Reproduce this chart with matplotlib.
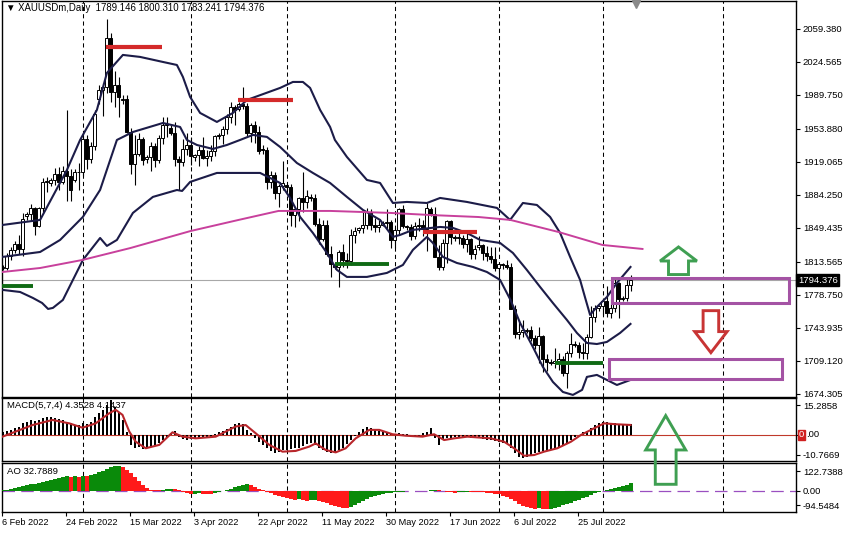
import numpy as np
import matplotlib.pyplot as plt
import matplotlib.transforms as mtransforms
from matplotlib.patches import Polygon, Rectangle

plt.rcParams['font.family'] = ['Liberation Sans', 'DejaVu Sans']

# ---- texts ----
header = "\u25bc XAUUSDm,Daily  1789.146 1800.310 1783.241 1794.376"
macd_text = "MACD(5,7,4) 4.3528 4.1437"
ao_text = "AO 32.7889"
last_price = 1794.376

date_labels = ['6 Feb 2022', '24 Feb 2022', '15 Mar 2022', '3 Apr 2022', '22 Apr 2022',
               '11 May 2022', '30 May 2022', '17 Jun 2022', '6 Jul 2022', '25 Jul 2022']
date_bars = [0, 16, 32, 48, 64, 80, 96, 112, 128, 144]
month_bars = [20, 47, 71, 98, 124, 150, 180]
price_ticks = [2059.380, 2024.565, 1989.750, 1953.880, 1919.065, 1884.250,
               1849.435, 1813.565, 1778.750, 1743.935, 1709.120, 1674.305]

# ---- daily candles (6 Feb .. 9 Aug 2022) ----
open_ = [1808,1807,1820,1826,1833,1827,1862,1864,1870,1852,
         1870,1898,1897,1900,1906,1898,1910,1904,1900,1908,
         1909,1943,1922,1936,1985,1995,1998,2050,1993,2000,
         1984,1986,1951,1917,1927,1943,1922,1924,1936,1921,
         1944,1958,1955,1950,1922,1919,1933,1937,1924,1926,
         1932,1923,1925,1931,1946,1948,1954,1966,1977,1975,
         1980,1978,1950,1958,1951,1933,1932,1898,1905,1886,
         1894,1895,1893,1863,1869,1881,1877,1882,1881,1854,
         1838,1853,1822,1810,1808,1824,1816,1815,1842,1847,
         1849,1853,1866,1853,1850,1853,1855,1856,1837,1847,
         1869,1851,1850,1841,1852,1853,1848,1869,1864,1819,
         1808,1834,1857,1840,1839,1839,1832,1838,1822,1829,
         1831,1823,1820,1817,1807,1811,1810,1808,1764,1738,
         1740,1741,1742,1733,1726,1735,1711,1708,1707,1709,
         1711,1696,1718,1727,1726,1719,1717,1734,1756,1765,
         1767,1772,1760,1765,1791,1775,1776,1789.146]
high = [1810,1823,1829,1836,1842,1865,1866,1875,1872,1872,
        1902,1903,1902,1913,1914,1915,1974,1912,1912,1918,
        1950,1948,1940,1974,2000,2002,2070,2055,2015,2009,
        1990,1990,1955,1948,1950,1945,1926,1940,1939,1948,
        1966,1966,1958,1961,1925,1943,1950,1945,1928,1936,
        1945,1932,1937,1948,1950,1957,1970,1982,1979,1982,
        1998,1981,1960,1962,1957,1937,1935,1910,1908,1896,
        1920,1897,1896,1871,1882,1909,1890,1885,1885,1860,
        1858,1858,1830,1813,1826,1833,1823,1848,1850,1850,
        1866,1870,1869,1860,1858,1857,1869,1858,1849,1871,
        1874,1853,1854,1856,1860,1858,1876,1872,1872,1831,
        1838,1858,1858,1842,1845,1842,1847,1839,1831,1841,
        1833,1830,1829,1829,1813,1813,1816,1812,1768,1752,
        1752,1744,1746,1736,1745,1737,1716,1711,1723,1718,
        1714,1720,1739,1730,1729,1728,1738,1767,1768,1768,
        1775,1788,1775,1796,1792,1778,1796,1800.310]
low = [1805,1805,1816,1823,1822,1820,1858,1857,1842,1850,
       1866,1887,1894,1895,1889,1896,1878,1878,1898,1889,
       1904,1912,1918,1932,1980,1968,1992,1982,1977,1966,
       1980,1950,1906,1895,1925,1916,1918,1910,1914,1918,
       1938,1945,1948,1915,1890,1915,1926,1916,1920,1915,
       1922,1915,1920,1925,1943,1938,1949,1960,1958,1973,
       1975,1945,1940,1939,1927,1928,1891,1892,1880,1872,
       1889,1890,1851,1850,1857,1866,1870,1878,1852,1832,
       1836,1820,1798,1806,1787,1808,1807,1810,1834,1844,
       1844,1848,1847,1845,1845,1851,1848,1828,1828,1843,
       1849,1847,1837,1838,1846,1841,1825,1862,1819,1805,
       1805,1813,1832,1836,1832,1828,1824,1817,1817,1826,
       1816,1815,1813,1804,1784,1806,1806,1764,1733,1732,
       1734,1739,1730,1722,1707,1697,1699,1705,1702,1700,
       1693,1681,1713,1724,1712,1711,1711,1733,1750,1762,
       1758,1755,1754,1761,1754,1772,1772,1783.241]
close = [1807,1820,1826,1833,1827,1859,1864,1870,1852,1870,
         1898,1898,1900,1906,1898,1910,1904,1889,1908,1909,
         1943,1922,1936,1970,1995,1998,2050,1993,2000,1988,
         1986,1951,1917,1927,1943,1921,1924,1936,1921,1944,
         1958,1958,1950,1922,1919,1933,1937,1925,1926,1932,
         1923,1925,1931,1946,1948,1954,1966,1977,1974,1980,
         1978,1950,1958,1951,1931,1932,1898,1905,1886,1894,
         1897,1893,1863,1869,1881,1877,1883,1881,1854,1838,
         1853,1822,1811,1808,1824,1816,1815,1842,1846,1849,
         1853,1866,1853,1850,1853,1855,1856,1837,1847,1869,
         1851,1850,1841,1852,1853,1848,1871,1864,1819,1808,
         1834,1857,1840,1839,1839,1832,1838,1822,1827,1831,
         1823,1820,1817,1807,1811,1810,1808,1764,1738,1740,
         1742,1742,1733,1726,1735,1711,1708,1707,1709,1711,
         1696,1718,1727,1726,1719,1717,1734,1756,1765,1767,
         1772,1760,1765,1791,1775,1776,1789,1794.376]

# ---- Bollinger bands and moving average (bar, price) ----
bb_up_x = [0, 9.4, 16.1, 19.4, 23.6, 26.1, 30.1, 34.4, 40.1, 43.6, 45.1, 46.9, 49.4, 53.6,
           57.6, 61.1, 69.4, 72.6, 75.1, 76.9, 79.4, 81.9, 83.1, 86.1, 91.1, 94.4, 97.6,
           101.1, 106.1, 109.4, 116.1, 123.6, 126.9, 130.1, 133.6, 136.9, 139.4, 141.9,
           144.4, 145.6, 146.9, 148.6, 151.1, 153.6, 157]
bb_up = [1852.6, 1857.9, 1910.6, 1942.3, 1974.0, 2013.0, 2032.0, 2029.9, 2024.6, 2021.4,
         2008.8, 1987.7, 1970.8, 1961.3, 1970.8, 1984.5, 1997.2, 2003.5, 2003.5, 1997.2,
         1974.0, 1956.0, 1942.3, 1924.4, 1900.1, 1896.9, 1875.8, 1876.9, 1875.8, 1881.1,
         1876.9, 1870.6, 1857.9, 1875.8, 1873.7, 1861.1, 1844.2, 1818.9, 1794.6, 1776.7,
         1757.7, 1766.1, 1776.6, 1791.4, 1808.3]
bb_mid_x = [0, 9.4, 14.4, 20.1, 24.4, 28.6, 32.6, 40.1, 44.4, 46.1, 48.6, 52.6, 56.1, 59.4,
            62.6, 66.1, 69.4, 73.6, 77.6, 81.9, 86.1, 90.1, 94.4, 97.6, 99.4, 102.6, 109.4,
            112.6, 116.1, 119.4, 124.4, 127.6, 131.1, 134.4, 137.6, 141.1, 143.6, 146.1,
            148.6, 151.1, 154.4, 157]
bb_mid = [1818.9, 1824.1, 1836.8, 1861.1, 1889.6, 1942.3, 1950.7, 1960.2, 1956.0, 1942.3,
          1937.0, 1932.8, 1937.0, 1942.3, 1947.6, 1945.5, 1934.9, 1918.0, 1907.5, 1896.9,
          1882.2, 1868.5, 1857.9, 1840.0, 1842.1, 1847.4, 1850.5, 1849.5, 1844.2, 1836.8,
          1833.6, 1823.1, 1805.1, 1787.2, 1770.3, 1752.4, 1738.7, 1728.1, 1727.0, 1729.2,
          1738.7, 1748.2]
bb_low_x = [0, 4.4, 7.6, 9.9, 11.4, 12.6, 15.1, 17.6, 20.1, 24.4, 26.1, 28.6, 32.6, 37.6,
            43.6, 44.9, 46.9, 53.6, 64.4, 69.4, 71.9, 74.4, 77.6, 81.1, 83.6, 86.1, 91.1,
            96.1, 100.1, 102.6, 106.1, 107.6, 110.1, 113.6, 117.6, 121.1, 124.4, 127.0,
            129.4, 132.6, 135.1, 137.6, 140.1, 142.6, 144.9, 146.1, 148.6, 151.1, 153.6, 157]
bb_low = [1784.1, 1781.9, 1775.6, 1770.3, 1764.0, 1765.1, 1773.5, 1794.6, 1815.7, 1838.9,
          1830.5, 1836.8, 1865.3, 1882.2, 1889.5, 1888.5, 1898.0, 1907.5, 1907.5, 1896.9,
          1881.1, 1861.1, 1844.2, 1823.1, 1805.2, 1797.8, 1797.8, 1802.0, 1810.4, 1826.3,
          1840.0, 1833.6, 1818.9, 1812.5, 1808.3, 1803.0, 1794.6, 1773.5, 1749.2, 1723.9,
          1702.8, 1687.0, 1676.4, 1673.3, 1678.6, 1692.3, 1694.4, 1689.1, 1683.8, 1689.1]
ma_x = [0, 9.4, 20, 32, 47, 59, 69, 82, 97, 107, 119, 127, 139, 150, 160]
ma = [1803.0, 1807.2, 1815.7, 1828.3, 1846.2, 1857.9, 1867.4, 1867.4, 1865.3, 1863.1,
      1861.0, 1857.9, 1845.2, 1831.5, 1827.3]

# ---- drawn objects ----
red_levels = [(25.9, 39.9, 2040.7), (58.9, 72.6, 1984.5), (105.1, 118.6, 1845.6)]
green_levels = [(-0.2, 7.6, 1788.6), (83.1, 96.6, 1811.5), (138.1, 150.1, 1707.3)]
zones = [(152.4, 196.6, 1770.6, 1796.7), (151.6, 194.9, 1690.5, 1710.9)]

# ---- MACD(5,7,4) ----
macd_hist = [1.1, 1.7, 2.2, 2.8, 3.3, 4.8, 5.5, 6.2, 5.8, 6.2,
             7.2, 7.6, 7.6, 7.2, 6.6, 6.2, 5.5, 4.8, 4.1, 4.1,
             4.8, 4.4, 5.5, 7.6, 9.0, 10.4, 12.4, 14.5, 11.7, 9.7,
             6.2, 1.4, -4.1, -5.5, -4.8, -5.8, -5.2, -4.8, -4.1, -3.5,
             -2.1, -0.7, 0.7, 1.7, -0.7, -1.7, -2.1, -1.7, -1.4, -1.1,
             -1.4, -1.0, -0.7, 0.4, 1.1, 1.7, 2.5, 3.5, 4.4, 4.8,
             4.4, 2.1, 0.7, -1.1, -2.8, -4.1, -5.5, -6.6, -7.6, -6.9,
             -6.2, -6.2, -5.8, -5.5, -5.2, -4.4, -3.9, -3.5, -4.1, -5.5,
             -6.2, -6.9, -7.6, -6.9, -6.2, -5.2, -3.9, -2.1, -0.3, 1.4,
             2.5, 3.5, 3.0, 2.5, 1.7, 1.1, 0.7, 0.4, 0.3, 0.7,
             0.4, 0.3, -0.3, -0.4, -0.3, 0.7, 1.4, 2.8, -1.4, -4.1,
             -2.1, -1.4, -1.1, -0.7, -0.7, -0.7, -0.7, -1.1, -1.1, -1.4,
             -1.7, -2.1, -2.1, -2.5, -2.8, -3.5, -3.9, -5.5, -7.6, -9.0,
             -9.7, -9.0, -8.3, -7.6, -6.9, -6.6, -6.2, -5.8, -5.2, -4.8,
             -4.4, -3.5, -2.1, -0.7, 0.0, 1.1, 1.7, 3.0, 4.1, 4.8,
             5.5, 5.2, 5.0, 4.8, 4.7, 4.6, 4.4, 4.35]
sig_x = [0, 7.5, 12.5, 16.7, 20, 23.3, 26.7, 28.3, 30, 31.7, 33.3, 35.8, 39.2, 42.5, 45,
         48.3, 53.3, 58.3, 60.8, 63.3, 66.7, 70, 73.3, 76.7, 78.3, 80.8, 83.3, 85.8, 88.3,
         91.7, 94.2, 97.5, 100.8, 105, 107.9, 110.4, 112.9, 116.2, 122.1, 125.4, 127.9,
         130.4, 132.9, 135.4, 138.7, 142.1, 144.6, 147.1, 150.4, 153.7, 157]
sig = [-0.7, 4.1, 6.2, 4.8, 3.0, 4.8, 9.0, 10.4, 8.3, 1.4, -2.8, -5.5, -4.1, 1.1, -0.7,
       -1.4, -0.7, 3.5, 4.1, 0.7, -4.1, -6.9, -6.6, -4.8, -3.5, -6.2, -7.2, -5.5, -1.4,
       2.1, 2.1, 0.3, -0.3, -0.7, 0.3, -2.1, -1.4, -0.7, -1.4, -2.8, -5.5,
       -8.6, -8.3, -6.9, -5.5, -2.8, 0.0, 2.1, 4.8, 4.4, 4.14]
macd_max, macd_min = 15.2858, -10.7669

# ---- Awesome Oscillator ----
ao = [1.5, 4.4, 8.9, 11.8, 16.3, 19.2, 23.7, 28.1, 31.1, 35.5,
      40.0, 44.4, 48.8, 53.3, 57.7, 60.7, 65.1, 62.2, 65.1, 62.2,
      65.1, 63.6, 68.1, 74.0, 81.4, 88.8, 96.2, 103.6, 108.0, 111.0,
      103.6, 93.2, 77.0, 59.2, 41.4, 25.2, 13.3, 4.4, 3.0, 1.5,
      3.0, 5.9, 8.9, 7.4, 1.5, -4.4, -10.4, -14.8, -13.3, -11.8,
      -13.3, -14.8, -16.3, -11.8, -7.4, -3.0, 3.0, 8.9, 14.8, 20.7,
      26.6, 28.1, 23.7, 16.3, 8.9, 1.5, -4.4, -11.8, -17.8, -23.7,
      -28.1, -32.6, -37.0, -40.0, -38.5, -41.4, -44.4, -42.9, -41.4, -45.9,
      -50.3, -56.2, -62.2, -68.1, -72.5, -75.5, -78.4, -72.5, -63.6, -53.3,
      -44.4, -35.5, -28.1, -22.2, -17.8, -14.8, -11.8, -8.9, -7.4, -5.9,
      -4.4, -3.0, -1.5, -1.5, -1.5, -1.5, 0.0, 3.0, 3.0, 1.5,
      -1.5, -4.4, -7.4, -8.9, -7.4, -5.9, -4.4, -5.9, -5.9, -7.4,
      -7.4, -8.9, -10.4, -13.3, -16.3, -22.2, -29.6, -38.5, -47.4, -57.7,
      -66.6, -72.5, -77.0, -79.9, -77.0, -79.9, -82.9, -81.4, -77.0, -71.0,
      -65.1, -59.2, -53.3, -47.4, -41.4, -34.0, -26.6, -19.2, -11.8, -5.9,
      -1.5, 3.0, 7.4, 11.8, 16.3, 20.7, 26.6, 32.8]
ao_max, ao_min = 122.7388, -94.5484

# ---- layout ----
W, H = 848, 533
fig = plt.figure(figsize=(W / 100, H / 100), dpi=100)


def box(top, bottom, left=2, right=796):
    return [left / W, 1 - bottom / H, (right - left) / W, (bottom - top) / H]


ax = fig.add_axes(box(1, 397))
axm = fig.add_axes(box(398, 461))
axa = fig.add_axes(box(463, 512))
for a in (ax, axm, axa):
    a.set_xlim(-0.125, 198.375)
    for s in a.spines.values():
        s.set_color('black')
        s.set_linewidth(1.0)
    a.yaxis.tick_right()
    a.tick_params(axis='y', length=3, width=0.8, labelsize=6.8, pad=2, colors='black')
    for b in month_bars:
        a.axvline(b, color='black', lw=0.75, ls=(0, (4, 3)), zorder=1)
ax.set_xticks([])
axm.set_xticks([])

# ---- main chart ----
ax.set_ylim(1671.1, 2088.9)
ax.set_yticks(price_ticks)
ax.set_yticklabels([f'{v:.3f}' for v in price_ticks])
ax.axhline(last_price, color='#a8a8a8', lw=0.8, zorder=1)

o, h, l, c = map(np.array, (open_, high, low, close))
xb = np.arange(len(c))
bull = c >= o
body_lo = np.minimum(o, c)
body_h = np.maximum(np.abs(c - o), 0.8)
ax.vlines(xb, l, h, color='black', lw=0.8, zorder=2)
ax.bar(xb[bull], body_h[bull], bottom=body_lo[bull], width=0.72, color='white',
       edgecolor='black', linewidth=0.7, zorder=3)
ax.bar(xb[~bull], body_h[~bull], bottom=body_lo[~bull], width=0.72, color='black',
       edgecolor='black', linewidth=0.7, zorder=3)

band_kw = dict(color='#1c1c48', lw=1.5, zorder=4, solid_joinstyle='round')
ax.plot(bb_up_x, bb_up, **band_kw)
ax.plot(bb_mid_x, bb_mid, **band_kw)
ax.plot(bb_low_x, bb_low, **band_kw)
ax.plot(ma_x, ma, color='#c8409c', lw=1.4, zorder=4)

for x0, x1, y in red_levels:
    ax.plot([x0, x1], [y, y], color='#d42a2a', lw=3.0, solid_capstyle='butt', zorder=5)
for x0, x1, y in green_levels:
    ax.plot([x0, x1], [y, y], color='#0f6a14', lw=2.8, solid_capstyle='butt', zorder=5)
for x0, x1, y0, y1 in zones:
    ax.add_patch(Rectangle((x0, y0), x1 - x0, y1 - y0, fill=False, edgecolor='#a453a4',
                           lw=2.2, zorder=5))


def hollow_arrow(target, xc, y_tip, y_neck, y_tail, head_half, shaft_half, color, transform):
    verts = [(xc, y_tip), (xc + head_half, y_neck), (xc + shaft_half, y_neck),
             (xc + shaft_half, y_tail), (xc - shaft_half, y_tail),
             (xc - shaft_half, y_neck), (xc - head_half, y_neck)]
    p = Polygon(verts, closed=True, fill=False, edgecolor=color, lw=2.1,
                joinstyle='miter', transform=transform, clip_on=False, zorder=6)
    target.add_artist(p)


hollow_arrow(ax, 169, 1829.4, 1814.6, 1800.3, 4.6, 2.5, '#3f9f52', ax.transData)
hollow_arrow(ax, 177.1, 1717.9, 1740.1, 1762.2, 4.05, 1.95, '#c83434', ax.transData)

ax.text(0.005, 0.982, header, transform=ax.transAxes, fontsize=6.9, va='center',
        ha='left', color='black')
ax.plot([158.4], [1 - 2.5 / 396], marker='v', ms=6, color='#8a8a8a', mec='#8a8a8a',
        transform=mtransforms.blended_transform_factory(ax.transData, ax.transAxes),
        clip_on=False, zorder=7)
ax.text(1.0 + 2 / 794, last_price, f'{last_price:.3f}', color='white', fontsize=6.8,
        va='center', ha='left',
        transform=mtransforms.blended_transform_factory(ax.transAxes, ax.transData),
        bbox=dict(facecolor='black', edgecolor='black', pad=1.2))

# ---- MACD panel ----
axm.set_ylim(macd_min, macd_max)
axm.axhline(0, color='#c0392b', lw=0.8, zorder=1)
axm.text(0.006, 0.88, macd_text, transform=axm.transAxes, fontsize=6.8, va='center',
         ha='left', zorder=2)
axm.bar(xb, macd_hist, width=0.5, color='black', zorder=3)
axm.plot(sig_x, sig, color='#b8262b', lw=1.5, zorder=4)
axm.set_yticks([macd_max - 2.9, 0, macd_min + 2.5])
axm.set_yticklabels([f'{macd_max:.4f}', '', f'{macd_min:.4f}'])
yt = mtransforms.blended_transform_factory(axm.transAxes, axm.transData)
axm.text(1.0 + 3 / 794, 0, '0', color='white', fontsize=6.8, va='center', ha='left',
         transform=yt, bbox=dict(facecolor='#d02020', edgecolor='#d02020', pad=0.5))
axm.text(1.0 + 10.5 / 794, 0, '.00', color='black', fontsize=6.8, va='center', ha='left',
         transform=yt)

hollow_arrow(fig, 165.8, 8.0, -6.2, -20.4, 5.0, 2.6, '#3f9f52', axm.transData)

# ---- AO panel ----
axa.set_ylim(ao_min, ao_max)
ao_arr = np.array(ao)
colors = []
up = True
for i, v in enumerate(ao_arr):
    if i > 0:
        if v > ao_arr[i - 1]:
            up = True
        elif v < ao_arr[i - 1]:
            up = False
    colors.append('#0a8a0a' if up else '#ff1a1a')
axa.bar(xb, ao_arr, width=1.0, color=colors, linewidth=0, zorder=3)
axa.axhline(0, color='#9a4fc0', lw=0.9, ls=(0, (10, 5)), zorder=2)
axa.text(0.006, 0.82, ao_text, transform=axa.transAxes, fontsize=6.8, va='center',
         ha='left', zorder=4)
axa.set_yticks([ao_max - 35.5, 0, ao_min + 31])
axa.set_yticklabels([f'{ao_max:.4f}', '0.00', f'{ao_min:.4f}'])
axa.set_xticks([b - 0.2 for b in date_bars])
axa.set_xticklabels([])
axa.tick_params(axis='x', length=3, width=0.8)
xt = mtransforms.blended_transform_factory(axa.transData, axa.transAxes)
for b, lab in zip(date_bars, date_labels):
    axa.text(b - 0.1, -0.21, lab, transform=xt, fontsize=6.6, ha='left', va='center')

fig.savefig('out.png', dpi=100)
